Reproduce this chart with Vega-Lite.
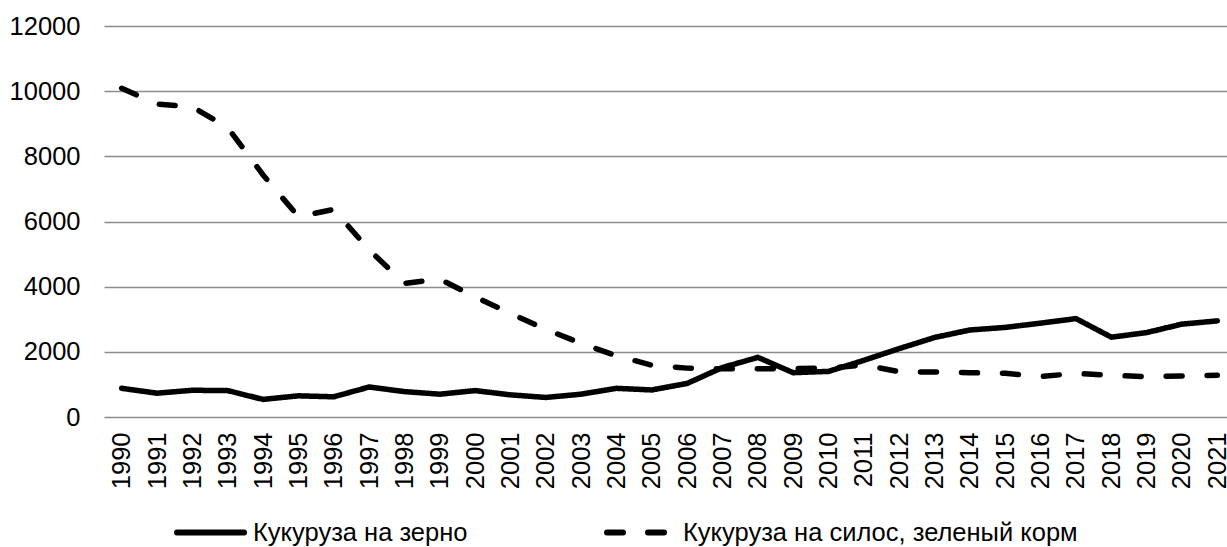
{
  "$schema": "https://vega.github.io/schema/vega-lite/v6.json",
  "autosize": {"type": "none"},
  "padding": {"left": 104, "top": 26, "right": 0, "bottom": 130},
  "width": 1131,
  "height": 391,
  "background": "white",
  "config": {
    "view": {"stroke": null},
    "font": "Liberation Sans",
    "axis": {"labelFont": "Liberation Sans", "labelColor": "#000000", "labelFontSize": 25.5, "titleFontSize": 25}
  },
  "data": {
    "values": [
      {"year": "1990", "series": "Кукуруза на зерно", "value": 880},
      {"year": "1991", "series": "Кукуруза на зерно", "value": 730},
      {"year": "1992", "series": "Кукуруза на зерно", "value": 820},
      {"year": "1993", "series": "Кукуруза на зерно", "value": 810},
      {"year": "1994", "series": "Кукуруза на зерно", "value": 540},
      {"year": "1995", "series": "Кукуруза на зерно", "value": 650},
      {"year": "1996", "series": "Кукуруза на зерно", "value": 620},
      {"year": "1997", "series": "Кукуруза на зерно", "value": 920},
      {"year": "1998", "series": "Кукуруза на зерно", "value": 780},
      {"year": "1999", "series": "Кукуруза на зерно", "value": 700},
      {"year": "2000", "series": "Кукуруза на зерно", "value": 810},
      {"year": "2001", "series": "Кукуруза на зерно", "value": 680},
      {"year": "2002", "series": "Кукуруза на зерно", "value": 600},
      {"year": "2003", "series": "Кукуруза на зерно", "value": 700},
      {"year": "2004", "series": "Кукуруза на зерно", "value": 880},
      {"year": "2005", "series": "Кукуруза на зерно", "value": 830},
      {"year": "2006", "series": "Кукуруза на зерно", "value": 1030},
      {"year": "2007", "series": "Кукуруза на зерно", "value": 1520},
      {"year": "2008", "series": "Кукуруза на зерно", "value": 1830},
      {"year": "2009", "series": "Кукуруза на зерно", "value": 1360},
      {"year": "2010", "series": "Кукуруза на зерно", "value": 1400},
      {"year": "2011", "series": "Кукуруза на зерно", "value": 1740},
      {"year": "2012", "series": "Кукуруза на зерно", "value": 2100},
      {"year": "2013", "series": "Кукуруза на зерно", "value": 2440},
      {"year": "2014", "series": "Кукуруза на зерно", "value": 2670},
      {"year": "2015", "series": "Кукуруза на зерно", "value": 2750},
      {"year": "2016", "series": "Кукуруза на зерно", "value": 2880},
      {"year": "2017", "series": "Кукуруза на зерно", "value": 3020},
      {"year": "2018", "series": "Кукуруза на зерно", "value": 2450},
      {"year": "2019", "series": "Кукуруза на зерно", "value": 2590},
      {"year": "2020", "series": "Кукуруза на зерно", "value": 2850},
      {"year": "2021", "series": "Кукуруза на зерно", "value": 2950},
      {"year": "1990", "series": "Кукуруза на силос, зеленый корм", "value": 10090},
      {"year": "1991", "series": "Кукуруза на силос, зеленый корм", "value": 9600},
      {"year": "1992", "series": "Кукуруза на силос, зеленый корм", "value": 9520},
      {"year": "1993", "series": "Кукуруза на силос, зеленый корм", "value": 8880},
      {"year": "1994", "series": "Кукуруза на силос, зеленый корм", "value": 7430},
      {"year": "1995", "series": "Кукуруза на силос, зеленый корм", "value": 6150},
      {"year": "1996", "series": "Кукуруза на силос, зеленый корм", "value": 6370},
      {"year": "1997", "series": "Кукуруза на силос, зеленый корм", "value": 5130},
      {"year": "1998", "series": "Кукуруза на силос, зеленый корм", "value": 4100},
      {"year": "1999", "series": "Кукуруза на силос, зеленый корм", "value": 4230},
      {"year": "2000", "series": "Кукуруза на силос, зеленый корм", "value": 3690},
      {"year": "2001", "series": "Кукуруза на силос, зеленый корм", "value": 3180},
      {"year": "2002", "series": "Кукуруза на силос, зеленый корм", "value": 2690},
      {"year": "2003", "series": "Кукуруза на силос, зеленый корм", "value": 2260},
      {"year": "2004", "series": "Кукуруза на силос, зеленый корм", "value": 1880},
      {"year": "2005", "series": "Кукуруза на силос, зеленый корм", "value": 1590},
      {"year": "2006", "series": "Кукуруза на силос, зеленый корм", "value": 1500},
      {"year": "2007", "series": "Кукуруза на силос, зеленый корм", "value": 1480},
      {"year": "2008", "series": "Кукуруза на силос, зеленый корм", "value": 1480},
      {"year": "2009", "series": "Кукуруза на силос, зеленый корм", "value": 1490},
      {"year": "2010", "series": "Кукуруза на силос, зеленый корм", "value": 1500},
      {"year": "2011", "series": "Кукуруза на силос, зеленый корм", "value": 1600},
      {"year": "2012", "series": "Кукуруза на силос, зеленый корм", "value": 1390},
      {"year": "2013", "series": "Кукуруза на силос, зеленый корм", "value": 1380},
      {"year": "2014", "series": "Кукуруза на силос, зеленый корм", "value": 1360},
      {"year": "2015", "series": "Кукуруза на силос, зеленый корм", "value": 1340},
      {"year": "2016", "series": "Кукуруза на силос, зеленый корм", "value": 1240},
      {"year": "2017", "series": "Кукуруза на силос, зеленый корм", "value": 1340},
      {"year": "2018", "series": "Кукуруза на силос, зеленый корм", "value": 1280},
      {"year": "2019", "series": "Кукуруза на силос, зеленый корм", "value": 1240},
      {"year": "2020", "series": "Кукуруза на силос, зеленый корм", "value": 1260},
      {"year": "2021", "series": "Кукуруза на силос, зеленый корм", "value": 1280}
    ]
  },
  "mark": {"type": "line", "color": "#000000", "strokeWidth": 5.5, "strokeCap": "round", "strokeJoin": "round", "clip": false},
  "encoding": {
    "x": {
      "field": "year",
      "type": "ordinal",
      "scale": {"type": "point", "padding": 0.5},
      "axis": {"title": null, "labelAngle": 270, "labelAlign": "right", "labelBaseline": "middle", "labelPadding": 15, "ticks": false, "domain": false, "labelFontSize": 25.5}
    },
    "y": {
      "field": "value",
      "type": "quantitative",
      "scale": {"domain": [0, 12000], "nice": false},
      "axis": {"title": null, "values": [0, 2000, 4000, 6000, 8000, 10000, 12000], "ticks": false, "domain": false, "labelPadding": 24, "gridColor": "#8c8c8c", "gridWidth": 1.5, "gridOpacity": 1, "labelFontSize": 25.5, "format": "d"}
    },
    "strokeDash": {
      "field": "series",
      "type": "nominal",
      "scale": {"domain": ["Кукуруза на зерно", "Кукуруза на силос, зеленый корм"], "range": [[1, 0], [16, 25]]},
      "legend": {
        "title": null,
        "orient": "none",
        "direction": "horizontal",
        "legendX": 70,
        "legendY": 470,
        "symbolType": "stroke",
        "symbolSize": 4489,
        "symbolStrokeWidth": 6,
        "symbolStrokeColor": "#000000",
        "labelFontSize": 25.5,
        "labelFont": "Liberation Sans",
        "labelColor": "#000000",
        "labelOffset": 6,
        "labelLimit": 600,
        "columnPadding": 127,
        "padding": 0,
        "encode": {"symbols": {"update": {"strokeCap": {"value": "round"}}}}
      }
    }
  }
}
